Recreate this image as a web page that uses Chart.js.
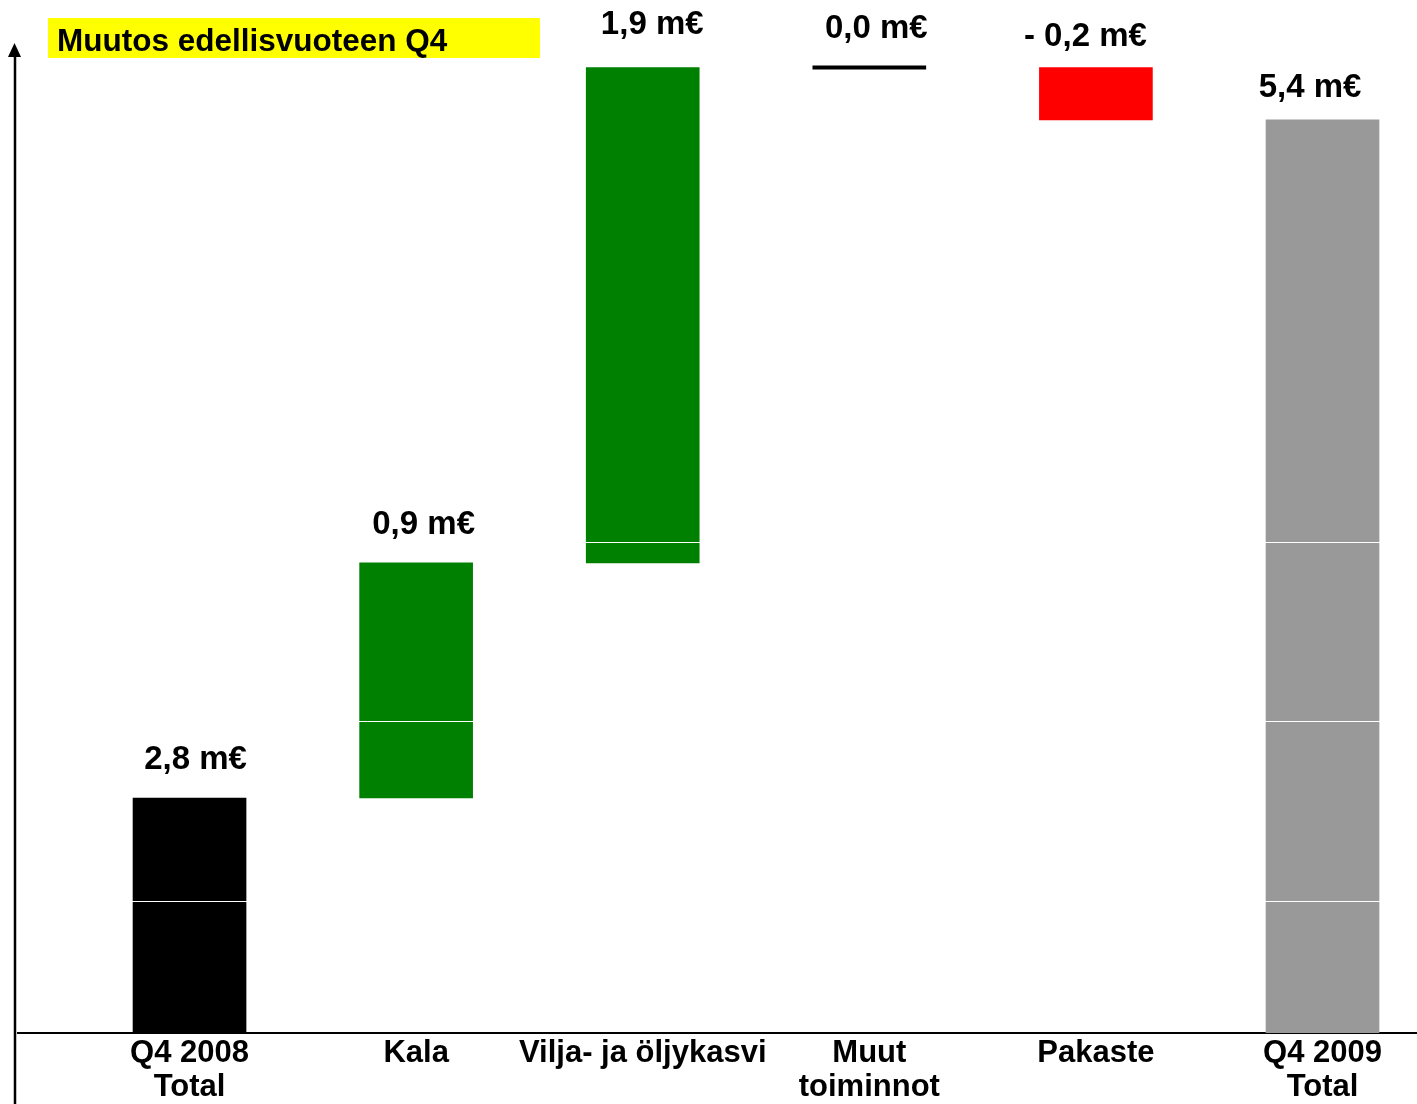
<!DOCTYPE html>
<html>
<head>
<meta charset="utf-8">
<script src="https://cdn.jsdelivr.net/npm/chart.js@4.4.1/dist/chart.umd.min.js"></script>
<style>
  html, body { margin: 0; padding: 0; background: #ffffff; overflow: hidden; }
  #wrap { width: 1417px; height: 1107px; }
</style>
</head>
<body>
<div id="wrap"><canvas id="waterfallChart"></canvas></div>
<script>
// categories along the bottom
const categories = [["Q4 2008", "Total"], "Kala", "Vilja- ja öljykasvi", ["Muut", "toiminnot"], "Pakaste", ["Q4 2009", "Total"]];
// bar start / end as drawn in the picture (not to scale with the labels)
const barLow = [0, 1.39, 2.78, 5.70, 5.40, 0];
const barHigh = [1.39, 2.78, 5.71, 5.72, 5.71, 5.40];
const valueLabels = ["2,8 m€", "0,9 m€", "1,9 m€", "0,0 m€", "- 0,2 m€", "5,4 m€"];
const barColors = ["#000000", "#008000", "#008000", "#000000", "#ff0000", "#999999"];
// white lines that cut through the bars
const gridValues = [0.775, 1.84, 2.9];
const chartTitle = "Muutos edellisvuoteen Q4";

const fontFamily = "'Liberation Sans', Arial, sans-serif";

const decor = {
  id: "decor",
  afterDraw(chart, args, opts) {
    const ctx = chart.ctx;
    const area = chart.chartArea;
    ctx.save();

    // y axis arrow
    ctx.strokeStyle = "#000";
    ctx.lineWidth = 2.5;
    ctx.beginPath();
    ctx.moveTo(15, chart.height);
    ctx.lineTo(15, area.top + 12);
    ctx.stroke();
    ctx.fillStyle = "#000";
    ctx.beginPath();
    ctx.moveTo(14.5, area.top);
    ctx.lineTo(21, area.top + 14);
    ctx.lineTo(8, area.top + 14);
    ctx.closePath();
    ctx.fill();

    // title box
    ctx.fillStyle = "#ffff00";
    ctx.fillRect(48, 18, 492, 40);
    ctx.fillStyle = "#000";
    ctx.font = "bold 31.5px " + fontFamily;
    ctx.textAlign = "left";
    ctx.textBaseline = "alphabetic";
    ctx.fillText(chartTitle, 57, 51);

    // value labels above bars
    ctx.font = "bold 33px " + fontFamily;
    ctx.textAlign = "center";
    const meta = chart.getDatasetMeta(0);
    meta.data.forEach((bar, i) => {
      const top = Math.min(bar.y, bar.base);
      const shift = opts.labelShift[i];
      ctx.fillText(valueLabels[i], bar.x + shift[0], top - shift[1]);
    });
    ctx.restore();
  }
};

new Chart("waterfallChart", {
  type: "bar",
  data: {
    datasets: [
      {
        data: categories.map((c, i) => ({ x: i, y: [barLow[i], barHigh[i]] })),
        backgroundColor: barColors,
        borderWidth: 0,
        barThickness: 113
      }
    ]
  },
  options: {
    responsive: true,
    maintainAspectRatio: false,
    animation: false,
    layout: {
      padding: { top: 43, left: 18, right: 0, bottom: 0 }
    },
    plugins: {
      legend: { display: false },
      tooltip: { enabled: false },
      decor: {
        labelShift: [[6, 29], [7.5, 28.5], [9.5, 33.5], [7, 28], [-10.5, 21.5], [-12.5, 22.5]]
      }
    },
    scales: {
      x: {
        type: "linear",
        offset: false,
        min: -0.757,
        max: 5.417,
        afterBuildTicks: (scale) => {
          scale.ticks = categories.map((c, i) => ({ value: i }));
        },
        grid: { display: false, drawTicks: false },
        border: { display: true, color: "#000", width: 2 },
        ticks: {
          autoSkip: false,
          maxRotation: 0,
          minRotation: 0,
          padding: 3,
          color: "#000",
          font: { family: fontFamily, size: 31, weight: "bold", lineHeight: "34px" },
          callback: (value) => categories[Math.round(value)]
        }
      },
      y: {
        min: 0,
        max: 5.855,
        afterBuildTicks: (scale) => {
          scale.ticks = gridValues.map(v => ({ value: v }));
        },
        grid: { color: "#ffffff", lineWidth: 1, drawTicks: false, z: 1 },
        border: { display: false },
        ticks: { display: false }
      }
    }
  },
  plugins: [decor]
});
</script>
</body>
</html>
